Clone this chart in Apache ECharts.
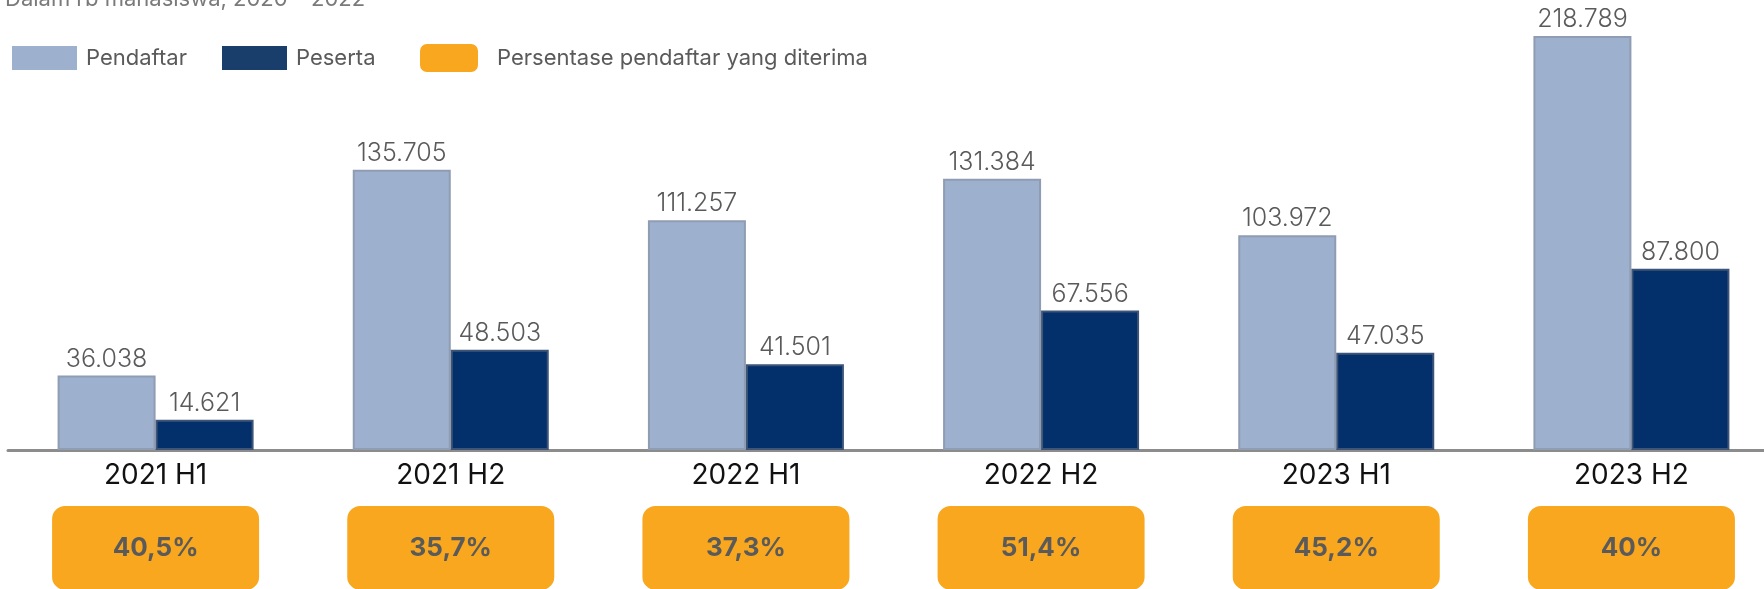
<!DOCTYPE html>
<html>
<head>
<meta charset="utf-8">
<script src="https://cdn.jsdelivr.net/npm/echarts@6/dist/echarts.min.js"></script>
<style>
  html, body { margin: 0; padding: 0; background: #fff; }
  #chart { width: 1764px; height: 589px; }
</style>
</head>
<body>
<div id="chart"></div>
<script>
  // data
  var periods = ['2021 H1', '2021 H2', '2022 H1', '2022 H2', '2023 H1', '2023 H2'];
  var pendaftar = [36038, 135705, 111257, 131384, 103972, 218789];
  var peserta = [14621, 48503, 41501, 67556, 47035, 87800];
  var persentase = [40.5, 35.7, 37.3, 51.4, 45.2, 40];

  var FONT = 'Inter, "Open Sans", sans-serif';

  function fmtNum(v) {
    return String(v).replace(/\B(?=(\d{3})+(?!\d))/g, '.');
  }
  function fmtPct(v) {
    return String(v).replace('.', ',') + '%';
  }

  var valueLabel = {
    show: true,
    position: 'top',
    distance: 4,
    fontFamily: FONT,
    fontSize: 25,
    fontWeight: 300,
    color: '#5a5a5a',
    formatter: function (p) { return fmtNum(p.value); }
  };

  var legendText = { fontFamily: FONT, fontSize: 22, color: '#5a5a5a', padding: [0, 0, 0, 4] };

  var myChart = echarts.init(document.getElementById('chart'));

  var option = {
    animation: false,
    title: {
      text: 'Dalam rb mahasiswa, 2020 – 2022',
      left: 0,
      top: -17,
      textStyle: { fontFamily: FONT, fontSize: 22, fontWeight: 'normal', color: '#7a7a7a' }
    },
    legend: [
      {
        data: [{ name: 'Pendaftar', itemStyle: { borderWidth: 0 } }],
        left: 7, top: 41,
        itemWidth: 65, itemHeight: 24,
        icon: 'rect',
        textStyle: legendText
      },
      {
        data: [{ name: 'Peserta', itemStyle: { color: '#1a3e6b', borderWidth: 0 } }],
        left: 217, top: 41,
        itemWidth: 65, itemHeight: 24,
        icon: 'rect',
        textStyle: legendText
      },
      {
        data: ['Persentase pendaftar yang diterima'],
        left: 415, top: 39,
        itemWidth: 58, itemHeight: 28,
        icon: 'roundRect',
        textStyle: { fontFamily: FONT, fontSize: 22, color: '#5a5a5a', padding: [0, 0, 0, 14] }
      }
    ],
    grid: {
      left: 8,
      top: 37,
      width: 1771,
      height: 413,
      outerBoundsMode: 'none',
      containLabel: false
    },
    xAxis: {
      type: 'category',
      data: periods,
      axisTick: { show: false },
      axisLine: { lineStyle: { color: '#8c8c8c', width: 3 } },
      axisLabel: {
        margin: 12,
        fontFamily: FONT,
        fontSize: 28,
        color: '#111'
      }
    },
    yAxis: {
      type: 'value',
      show: false,
      min: 0,
      max: 200000,
      splitLine: { show: false }
    },
    series: [
      {
        name: 'Pendaftar',
        type: 'bar',
        data: pendaftar,
        barWidth: 98,
        barGap: '0%',
        clip: true,
        itemStyle: { color: '#9db0ce', borderColor: '#8f9cb2', borderWidth: 2 },
        label: valueLabel
      },
      {
        name: 'Peserta',
        type: 'bar',
        data: peserta,
        barWidth: 98,
        clip: true,
        itemStyle: { color: '#03306a', borderColor: '#3e5577', borderWidth: 2 },
        label: valueLabel
      },
      {
        name: 'Persentase pendaftar yang diterima',
        type: 'scatter',
        data: persentase,
        symbolSize: 0.1,
        silent: true,
        itemStyle: { color: '#f8a71e', opacity: 1 },
        label: {
          show: true,
          position: 'inside',
          offset: [0, 98],
          align: 'center',
          verticalAlign: 'middle',
          width: 207,
          height: 84,
          lineHeight: 84,
          borderRadius: 13,
          backgroundColor: '#f8a71e',
          opacity: 1,
          fontFamily: FONT,
          fontSize: 26,
          fontWeight: 'bold',
          color: '#5a5a5a',
          formatter: function (p) { return fmtPct(p.value); }
        }
      }
    ]
  };

  myChart.setOption(option);
  window.addEventListener('resize', function () { myChart.resize(); });
</script>
</body>
</html>
